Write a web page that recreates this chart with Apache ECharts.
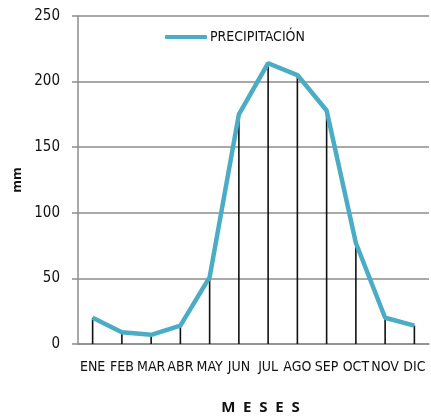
<!DOCTYPE html>
<html><head><meta charset="utf-8">
<script src="https://cdn.jsdelivr.net/npm/echarts@6/dist/echarts.min.js"></script>
<style>html,body{margin:0;padding:0;background:#fff}#c{width:431px;height:417px}</style>
</head><body><div id="c"></div>
<script>
const categories = ['ENE','FEB','MAR','ABR','MAY','JUN','JUL','AGO','SEP','OCT','NOV','DIC'];
const precipitacion = [20, 9, 7, 14, 51, 175, 214, 205, 178, 77, 20, 14];
const yTicks = [0, 50, 100, 150, 200, 250];
const FONT = '"DejaVu Sans Condensed", sans-serif';
const chart = echarts.init(document.getElementById('c'));
chart.setOption({
  animation: false,
  grid: {left: 78, right: 2, top: 16, bottom: 73, containLabel: false, outerBoundsMode: 'none'},
  legend: {
    left: 165, top: 30, padding: 0, itemWidth: 42, itemHeight: 4, itemGap: 4,
    data: [{name: 'PRECIPITACIÓN', icon: 'roundRect'}],
    textStyle: {fontFamily: FONT, fontSize: 14, color: '#111', padding: [2,0,0,-2]}
  },
  xAxis: {
    type: 'category', data: categories, boundaryGap: true,
    name: 'M  E  S  E  S', nameLocation: 'middle', nameGap: 56,
    nameTextStyle: {fontFamily: 'Open Sans, sans-serif', fontWeight: 'bold', fontSize: 15, color: '#111', padding: [0,0,0,14]},
    axisLine: {lineStyle: {color: '#8c8c8c', width: 1.5}},
    axisTick: {show: false},
    axisLabel: {fontFamily: FONT, fontSize: 14, color: '#111', margin: 16, interval: 0}
  },
  yAxis: {
    type: 'value', min: 0, max: 250, interval: 50,
    name: 'mm', nameLocation: 'middle', nameGap: 54, nameRotate: 90,
    nameTextStyle: {fontFamily: 'Open Sans, sans-serif', fontWeight: 'bold', fontSize: 13, color: '#111'},
    axisLine: {show: true, lineStyle: {color: '#8c8c8c', width: 1.5}},
    axisTick: {show: true, length: 6, lineStyle: {color: '#8c8c8c', width: 1.5}},
    splitLine: {lineStyle: {color: '#8c8c8c', width: 1.5}},
    axisLabel: {fontFamily: FONT, fontSize: 15, color: '#111', margin: 18,
      formatter: v => yTicks.includes(v) ? String(v) : ''}
  },
  series: [
    {type: 'bar', name: 'drop', data: precipitacion, barWidth: 1.6, silent: true,
     itemStyle: {color: '#111'}, legendHoverLink: false, z: 1},
    {type: 'line', name: 'PRECIPITACIÓN', data: precipitacion, showSymbol: false, symbol: 'none',
     lineStyle: {color: '#4bacc6', width: 4.5}, itemStyle: {color: '#4bacc6'}, z: 3}
  ]
});
</script></body></html>
